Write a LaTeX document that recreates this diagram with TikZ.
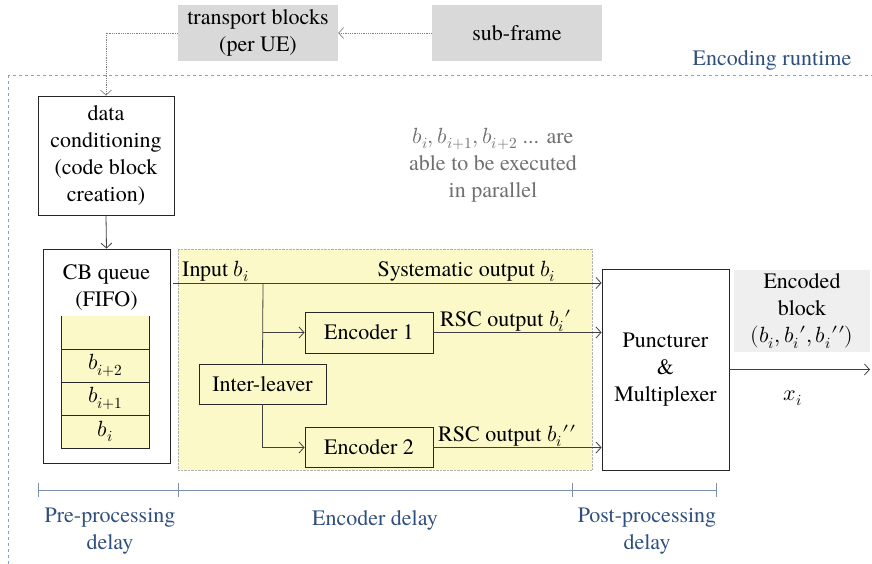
\documentclass[tikz,border=0pt]{standalone}
\usepackage{fontspec}
\usepackage{unicode-math}
\setmainfont{TeX Gyre Termes}
\usetikzlibrary{arrows.meta}
\definecolor{cbyellow}{HTML}{FCF9C9}
\definecolor{topgrey}{HTML}{D9D9D9}
\definecolor{outgrey}{HTML}{EFEFEF}
\definecolor{runblue}{HTML}{2F4F7F}
\definecolor{frameblue}{HTML}{8AA0C0}
\definecolor{notegrey}{HTML}{707070}
\tikzset{blk/.style={draw=black!85,line width=.9pt,fill=white,align=center,inner sep=0pt},
  greybox/.style={fill=topgrey,align=center,inner sep=0pt},
  cell/.style={fill=cbyellow,minimum width=87pt,minimum height=33pt,inner sep=0pt},
  arrow/.style={-{Straight Barb[length=5pt,width=11pt]},line width=.8pt,black!75},
  feed/.style={arrow,densely dotted,gray,line width=.7pt},
  delay/.style={text=runblue,align=center},
  tline/.style={frameblue!90!black,line width=1pt}}

\begin{document}
\begin{tikzpicture}[x=1pt,y=-1pt,font=\fontsize{22}{27}\selectfont]
  \clip (0,0) rectangle (872,563);
  % outer frame
  \draw[frameblue,dashed,line width=.8pt] (8,75) rectangle (900,600);
  \node[text=runblue] (run) at (772,60) {Encoding runtime};

  \node[greybox,minimum width=160pt,minimum height=56pt] (tb) at (258,33) {transport blocks\\(per UE)};
  \node[greybox,minimum width=170pt,minimum height=56pt] (sf) at (517,33) {sub-frame};
  \node[blk,minimum width=136pt,minimum height=119pt] (dc) at (106,155.5)
    {data\\conditioning\\(code block\\creation)};
  \draw[feed] (sf.west) -- (tb.east);
  \draw[feed] (tb.west) -| (dc.north);

  \node[text=notegrey,align=center] (note) at (493,165)
    {$b_i, b_{i+1}, b_{i+2}$ ... are\\able to be executed\\in parallel};

  % code block queue
  \node[blk,minimum width=127pt,minimum height=214pt] (cbq) at (106.5,356) {};
  \node[align=center] (cbt) at (106.5,288) {CB queue\\(FIFO)};
  \draw[arrow] (dc.south) -- (cbq.north);
  \foreach \t [count=\k from 0] in {{},b_{i+2},b_{i+1},b_i}
    \node[cell] (q\k) at (105.5,{332.5+33*\k}) {$\t$};
  \foreach \k in {0,...,3}
    \draw[line width=.9pt,black!85] (q\k.north west) -- (q\k.south west) -- (q\k.south east) -- (q\k.north east);

  % turbo encoder
  \node[fill=cbyellow,draw=gray!60,densely dotted,minimum width=414pt,minimum height=221pt] (enc) at (385,359.5) {};
  \node[blk,minimum width=127pt,minimum height=201pt] (pm) at (665.5,369.5) {Puncturer\\\&\\Multiplexer};
  \node[blk,fill=cbyellow,minimum width=127pt,minimum height=40pt] (il) at (262.5,384) {Inter-leaver};
  \node[blk,fill=cbyellow,minimum width=128pt,minimum height=41pt] (e1) at (369,332.5) {Encoder 1};
  \node[blk,fill=cbyellow,minimum width=128pt,minimum height=40pt] (e2) at (369,447.5) {Encoder 2};
  \coordinate (in) at (173,283);
  \coordinate (sp) at (263,283);
  \draw[arrow] (in) -- (in -| pm.west);
  \draw[line width=.8pt,black!75] (sp) -- (il.north);
  \draw[arrow] (sp |- e1.west) -- (e1.west);
  \draw[arrow] (il.south) |- (e2.west);
  \draw[arrow] (e1.east) -- (e1.east -| pm.west);
  \draw[arrow] (e2.east) -- (e2.east -| pm.west);
  \node[anchor=south west,inner sep=2pt] (inl) at (180,284) {Input $b_i$};
  \node[anchor=south east,inner sep=2pt] (sysl) at (558,284) {Systematic output $b_i$};
  \node[anchor=south west,inner sep=2pt] (r1) at (438,334) {RSC output $b_i\prime$};
  \node[anchor=south west,inner sep=2pt] (r2) at (436,449) {RSC output $b_i\prime\prime$};

  % output
  \node[greybox,fill=outgrey,minimum width=136pt,minimum height=82pt] (eb) at (802,311)
    {Encoded\\block\\$(b_i, b_i\prime, b_i\prime\prime)$};
  \coordinate (out) at (870,369.5);
  \draw[arrow] (pm.east) -- (out);
  \node (xi) at (793,398) {$x_i$};

  % delays
  \draw[tline] (38,490) -- (716,490);
  \foreach \x in {38,178,572,716}
    \draw[tline] (\x,483) -- (\x,497);
  \node[delay] (pre) at (110,531) {Pre-processing\\delay};
  \node[delay] (mid) at (375,520) {Encoder delay};
  \node[delay] (post) at (647,531) {Post-processing\\delay};
\end{tikzpicture}
\end{document}
